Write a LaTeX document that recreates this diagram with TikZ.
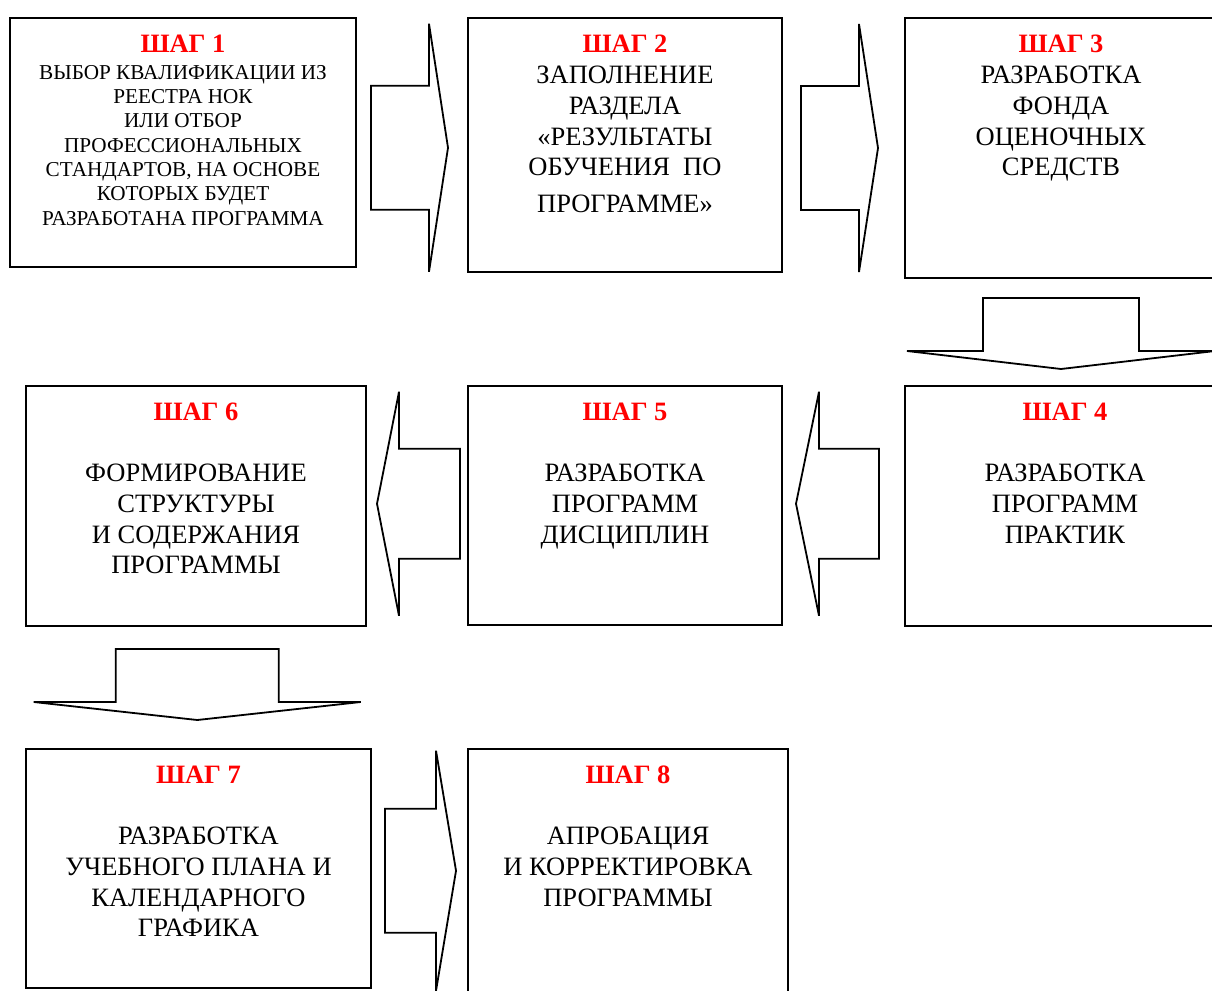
\documentclass[tikz,border=0pt]{standalone}
\usepackage{fontspec}
\setmainfont{Liberation Serif}
\usetikzlibrary{calc}

\tikzset{
  stepBox/.style={draw, line width=2pt, rectangle, inner sep=0pt, anchor=north west},
  stepTitle/.style={inner sep=0pt, text=red, font=\fontsize{26.5}{30.7}\selectfont\bfseries},
  stepText/.style={anchor=north, align=center, inner sep=0pt, font=\fontsize{26.5}{30.7}\selectfont},
  smallText/.style={stepText, font=\fontsize{21.2}{24.3}\selectfont},
  arrowLine/.style={draw, line width=1.8pt, miter limit=4},
  pics/blockArrow/.style n args={4}{code={
    \draw[arrowLine] ({-#1/2},{-#2}) -- ({#1/2-#4},{-#2}) -- ({#1/2-#4},{-#3}) -- ({#1/2},0)
      -- ({#1/2-#4},{#3}) -- ({#1/2-#4},{#2}) -- ({-#1/2},{#2}) -- cycle;
  }}
}

\begin{document}
\begin{tikzpicture}[x=1pt, y=-1pt]
  \useasboundingbox (0,0) rectangle (1212,990);

  % boxes
  \node[stepBox, minimum width=346, minimum height=249] (shag1) at (9,17) {};
  \node[stepBox, minimum width=314, minimum height=254] (shag2) at (467,17) {};
  \node[stepBox, minimum width=312, minimum height=260] (shag3) at (904,17) {};
  \node[stepBox, minimum width=320, minimum height=240] (shag4) at (904,385) {};
  \node[stepBox, minimum width=314, minimum height=239] (shag5) at (467,385) {};
  \node[stepBox, minimum width=340, minimum height=240] (shag6) at (25,385) {};
  \node[stepBox, minimum width=345, minimum height=239] (shag7) at (25,748) {};
  \node[stepBox, minimum width=320, minimum height=260] (shag8) at (467,748) {};

  % titles
  \foreach \i in {1,...,8}
    \node[stepTitle] (title\i) at ($(shag\i.north)+(0,27)$) {ШАГ \i};

  % texts
  \node[smallText] (text1) at ($(shag1.north)+(0,48)$) {ВЫБОР КВАЛИФИКАЦИИ ИЗ\\РЕЕСТРА НОК\\ИЛИ ОТБОР\\ПРОФЕССИОНАЛЬНЫХ\\СТАНДАРТОВ, НА ОСНОВЕ\\КОТОРЫХ БУДЕТ\\РАЗРАБОТАНА ПРОГРАММА};
  \node[stepText] (text2) at ($(shag2.north)+(0,49)$) {ЗАПОЛНЕНИЕ\\РАЗДЕЛА\\«РЕЗУЛЬТАТЫ\\ОБУЧЕНИЯ\ \ ПО\\[6pt]ПРОГРАММЕ»};
  \node[stepText] (text3) at ($(shag3.north)+(0,49)$) {РАЗРАБОТКА\\ФОНДА\\ОЦЕНОЧНЫХ\\СРЕДСТВ};
  \node[stepText] (text4) at ($(shag4.north)+(0,79)$) {РАЗРАБОТКА\\ПРОГРАММ\\ПРАКТИК};
  \node[stepText] (text5) at ($(shag5.north)+(0,79)$) {РАЗРАБОТКА\\ПРОГРАММ\\ДИСЦИПЛИН};
  \node[stepText] (text6) at ($(shag6.north)+(0,79)$) {ФОРМИРОВАНИЕ\\СТРУКТУРЫ\\И СОДЕРЖАНИЯ\\ПРОГРАММЫ};
  \node[stepText] (text7) at ($(shag7.north)+(0,79)$) {РАЗРАБОТКА\\УЧЕБНОГО ПЛАНА И\\КАЛЕНДАРНОГО\\ГРАФИКА};
  \node[stepText] (text8) at ($(shag8.north)+(0,79)$) {АПРОБАЦИЯ\\И КОРРЕКТИРОВКА\\ПРОГРАММЫ};

  % block arrows
  \pic at ($(shag1.east)!0.5!(shag2.west)+(-2.5,4)$) {blockArrow={77}{62}{124}{19}};
  \pic at ($(shag2.east)!0.5!(shag3.west)+(-4,1.5)$) {blockArrow={77}{62}{124}{19}};
  \pic[rotate=-90] at ($(shag3.south)!0.5!(shag4.north)+(-2,1.5)$) {blockArrow={71}{78}{154}{18}};
  \pic[rotate=180] at ($(shag4.west)!0.5!(shag5.east)+(-6,-2)$) {blockArrow={83}{55}{112}{23}};
  \pic[rotate=180] at ($(shag5.west)!0.5!(shag6.east)+(1.5,-2)$) {blockArrow={83}{55}{112}{22}};
  \pic[rotate=-90] at ($(shag6.south)!0.5!(shag7.north)+(0,-3)$) {blockArrow={71}{81.5}{163.5}{18}};
  \pic at ($(shag7.east)!0.5!(shag8.west)+(1,-3)$) {blockArrow={71}{62}{120}{20}};
\end{tikzpicture}
\end{document}
